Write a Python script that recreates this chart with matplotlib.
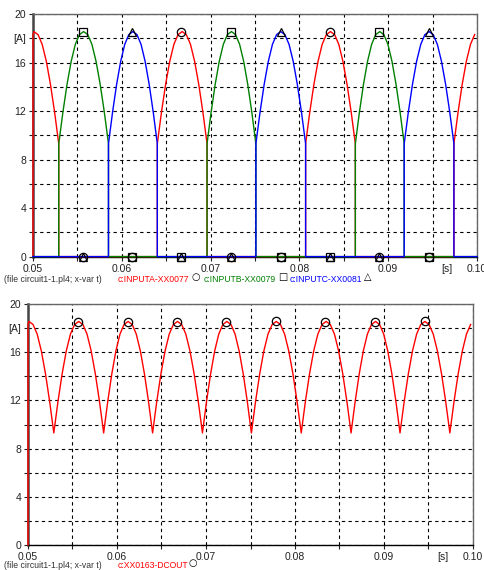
import numpy as np
import matplotlib.pyplot as plt
from matplotlib.ticker import FixedLocator, FixedFormatter

plt.rcParams['font.family'] = ['Liberation Sans', 'DejaVu Sans']

# commutation instants (s); one window per conducting phase
dip_times = [0.0473, 0.0529, 0.0585, 0.0640, 0.0696, 0.0751, 0.0807, 0.0863, 0.0918, 0.0974, 0.1030]
# phase conducting in each window: 0 = INPUTA, 1 = INPUTB, 2 = INPUTC
window_phase = [0, 1, 2, 0, 1, 2, 0, 1, 2, 0]
# current over one conduction window, equally spaced samples (A)
arc_values = [9.3, 11.9, 14.2, 16.1, 17.5, 18.3, 18.55, 18.3, 17.5, 16.1, 14.2, 11.9, 9.3]
# trace starts at t = 0.05 with a jump
start_values = [0.0, 18.3]
# marker positions on the curves (s)
marker_times = [0.0556, 0.0612, 0.0667, 0.0723, 0.0779, 0.0834, 0.0890, 0.0946]

t_min, t_max = 0.05, 0.10
phase_names = ['c:INPUTA-XX0077', 'c:INPUTB-XX0079', 'c:INPUTC-XX0081']
phase_colors = ['#ff0000', '#008000', '#0000ff']
phase_markers = ['o', 's', '^']
phase_glyphs = ['\u25cb', '\u25a1', '\u25b3']


def arc(i):
    a, b = dip_times[i], dip_times[i + 1]
    tt = np.linspace(a, b, len(arc_values))
    return tt, np.array(arc_values)


def phase_series(p):
    ts, ys = [t_min], [0.0]
    if window_phase[0] == p:
        ts, ys = [t_min, t_min], list(start_values)
    for i, ph in enumerate(window_phase):
        tt, yy = arc(i)
        if ph == p:
            if tt[0] >= t_min:
                ts.append(tt[0]); ys.append(0.0)
            keep = (tt >= t_min) & (tt <= t_max)
            ts += list(tt[keep]); ys += list(yy[keep])
            if tt[-1] <= t_max:
                ts.append(tt[-1]); ys.append(0.0)
    if ts[-1] < t_max and ys[-1] == 0.0:
        ts.append(t_max); ys.append(0.0)
    return np.array(ts), np.array(ys)


def dc_series():
    ts, ys = [t_min, t_min], list(start_values)
    for i in range(len(window_phase)):
        tt, yy = arc(i)
        keep = (tt >= t_min) & (tt <= t_max)
        ts += list(tt[keep]); ys += list(yy[keep])
    return np.array(ts), np.array(ys)


def style_axes(ax):
    ax.set_xlim(t_min, t_max)
    ax.set_ylim(0, 20)
    yt = np.arange(0, 21, 2)
    ylab = {0: '0', 4: '4', 8: '8', 12: '12', 16: '16', 18: '[A]', 20: '20'}
    ax.yaxis.set_major_locator(FixedLocator(yt))
    ax.yaxis.set_major_formatter(FixedFormatter([ylab.get(int(v), '') for v in yt]))
    xt = np.linspace(0.05, 0.10, 11)
    xlab = ['%.2f' % v if i % 2 == 0 else '' for i, v in enumerate(xt)]
    ax.xaxis.set_major_locator(FixedLocator(xt))
    ax.xaxis.set_major_formatter(FixedFormatter(xlab))
    ax.tick_params(labelsize=7.5, colors='#222222', length=3, width=0.8, pad=2)
    ax.grid(True, color='black', linestyle=(0, (3, 3)), linewidth=0.8)
    ax.set_axisbelow(True)
    ax.spines['left'].set_color('#444444')
    ax.spines['left'].set_linewidth(1.8)
    for s in ['top', 'right']:
        ax.spines[s].set_color('#666666')
        ax.spines[s].set_linewidth(1.0)
    ax.spines['bottom'].set_color('black')
    ax.spines['bottom'].set_linewidth(1.0)
    ax.text(0.0966, -0.6, '[s]', fontsize=7.5, color='#222222', ha='center', va='top')


W, H = 485, 570
fig = plt.figure(figsize=(W / 100, H / 100), dpi=100)

ax1 = fig.add_axes([33 / W, 1 - 256.6 / H, (477 - 33) / W, (256.6 - 14) / H])
style_axes(ax1)
for p in range(3):
    t, y = phase_series(p)
    ax1.plot(t, y, color=phase_colors[p], lw=1.0, clip_on=False, zorder=3)
for p in range(3):
    t, y = phase_series(p)
    ax1.plot(marker_times, np.interp(marker_times, t, y), ls='none',
             marker=phase_markers[p], mfc='none', mec='black', mew=0.9,
             ms=6, clip_on=False, zorder=4)

ax2 = fig.add_axes([28 / W, 1 - 545 / H, (473 - 28) / W, (545 - 304) / H])
style_axes(ax2)
t, y = dc_series()
ax2.plot(t, y, color='#ff0000', lw=1.0, clip_on=False, zorder=3)
ax2.plot(marker_times, np.interp(marker_times, t, y), ls='none', marker='o',
         mfc='none', mec='black', mew=0.9, ms=6, clip_on=False, zorder=4)

# legend lines under each plot
fs = 6.2
y1 = 1 - 279 / H
fig.text(4 / W, y1, '(file circuit1-1.pl4; x-var t)', fontsize=fs, color='#333333', va='center')
xs = [118, 204, 290]
for p in range(3):
    txt = fig.text(xs[p] / W, y1, phase_names[p], fontsize=fs, color=phase_colors[p], va='center')
    fig.text((xs[p] + 74) / W, y1 + 0.003, phase_glyphs[p], fontsize=7, color='black',
             va='center', family=['DejaVu Sans'])
y2 = 1 - 565 / H
fig.text(4 / W, y2, '(file circuit1-1.pl4; x-var t)', fontsize=fs, color='#333333', va='center')
fig.text(118 / W, y2, 'c:XX0163-DCOUT', fontsize=fs, color='#ff0000', va='center')
fig.text(189 / W, y2 + 0.003, '\u25cb', fontsize=7, color='black', va='center',
         family=['DejaVu Sans'])

fig.savefig('out.png', dpi=100)
